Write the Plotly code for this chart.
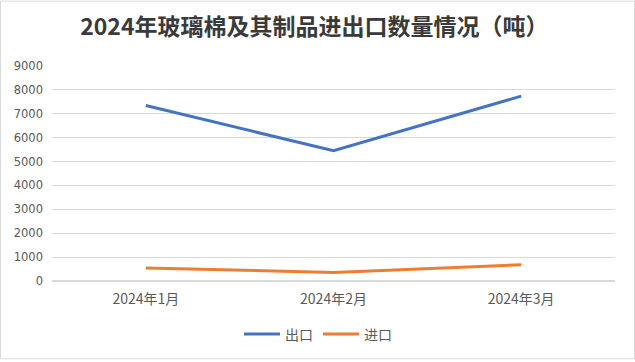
import plotly.graph_objects as go

months = ["2024年1月", "2024年2月", "2024年3月"]
export_vals = [7350, 5450, 7740]
import_vals = [540, 360, 680]
title_text = "2024年玻璃棉及其制品进出口数量情况（吨）"

W, H = 635, 362
L, R, T, B = 52, 20, 66, 79
pw = W - L - R
ph = H - T - B

fig = go.Figure()
fig.add_trace(go.Scatter(x=months, y=export_vals, name="出口", mode="lines",
                         line=dict(color="#4472C4", width=3)))
fig.add_trace(go.Scatter(x=months, y=import_vals, name="进口", mode="lines",
                         line=dict(color="#ED7D31", width=3)))

font_cjk = "Noto Sans CJK SC, Microsoft YaHei, sans-serif"
fig.update_layout(
    width=W, height=H,
    margin=dict(l=L, r=R, t=T, b=B),
    paper_bgcolor="white", plot_bgcolor="white",
    title=dict(text="<b>" + title_text + "</b>", x=0.495, xanchor="center",
               y=1 - 27 / H, yanchor="middle",
               font=dict(family=font_cjk, size=23, color="#3A3A3A")),
    xaxis=dict(showgrid=False, showline=False, zeroline=False, ticks="",
               tickfont=dict(family=font_cjk, size=14, color="#595959"),
               range=[-0.5, 2.5], ticklabelstandoff=8),
    yaxis=dict(range=[0, 9000], dtick=1000, showgrid=True, gridcolor="#D9D9D9",
               gridwidth=1, zeroline=True, zerolinecolor="#D9D9D9", showline=False,
               ticks="", tickfont=dict(family="DejaVu Sans, sans-serif", size=11.5, color="#595959"),
               ticklabelstandoff=8),
    legend=dict(orientation="h", x=(318 - L) / pw, xanchor="center",
                y=-(337 - (H - B)) / ph,
                yanchor="middle", font=dict(family=font_cjk, size=14, color="#595959"),
                itemwidth=36, tracegroupgap=0),
    showlegend=True,
    shapes=[dict(type="rect", xref="paper", yref="paper",
                 x0=(0.5 - L) / pw, x1=(W - 0.5 - L) / pw,
                 y0=-(B - 0.5) / ph,
                 y1=1 + (T - 0.5) / ph,
                 line=dict(color="#D9D9D9", width=1), layer="below")],
)

fig.write_html("out.html", config={"displayModeBar": False},
               post_script="document.body.style.margin='0';")
